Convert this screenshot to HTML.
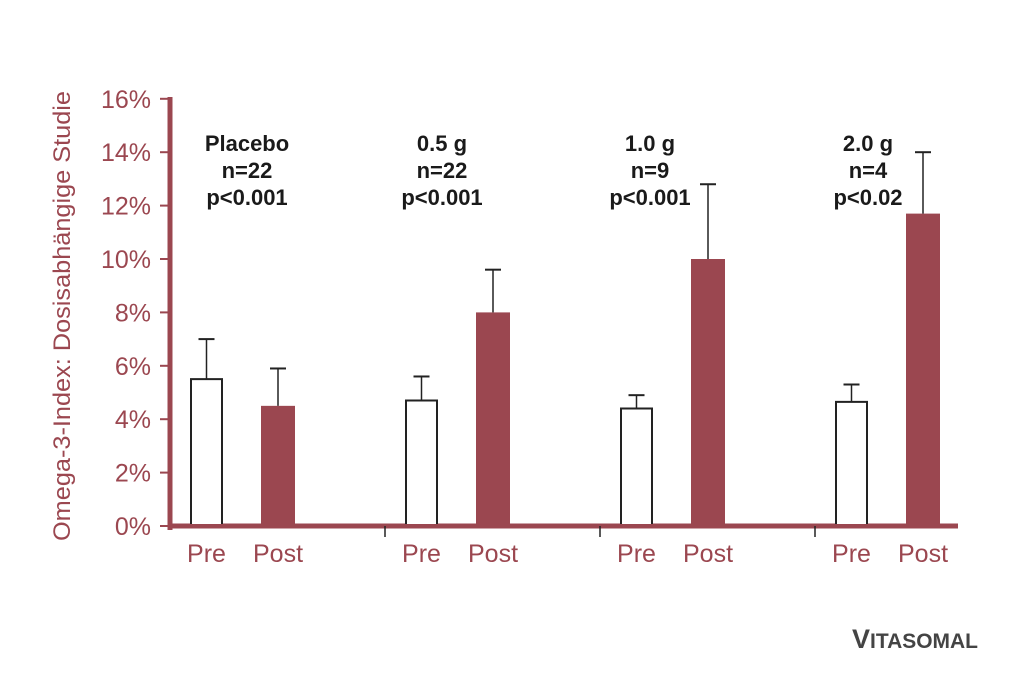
<!DOCTYPE html>
<html><head><meta charset="utf-8"><style>
html,body{margin:0;padding:0;background:#fff;width:1024px;height:689px;overflow:hidden}
svg text{font-family:"Liberation Sans",Arial,sans-serif}
</style></head><body>
<svg id="chart" width="1024" height="689" viewBox="0 0 1024 689">
<g id="axes"></g>
<g id="bars"></g>
<g id="labels"></g>
<text transform="translate(70,316) rotate(-90)" text-anchor="middle" font-size="24" textLength="450" lengthAdjust="spacingAndGlyphs" fill="#9b4750">Omega-3-Index: Dosisabhängige Studie</text>
<text x="852" y="648" font-size="27" font-weight="bold" fill="#444" textLength="126" lengthAdjust="spacingAndGlyphs">V<tspan font-size="21">ITASOMAL</tspan></text>
</svg>
<script>
const groups = ["Placebo","0.5 g","1.0 g","2.0 g"];
const nLabels = ["n=22","n=22","n=9","n=4"];
const pLabels = ["p<0.001","p<0.001","p<0.001","p<0.02"];
const preValues = [5.5,4.7,4.4,4.65];
const preErrTop = [7.0,5.6,4.9,5.3];
const postValues = [4.5,8.0,10.0,11.7];
const postErrTop = [5.9,9.6,12.8,14.0];
const yTicks = [0,2,4,6,8,10,12,14,16];

const NS="http://www.w3.org/2000/svg";
const red="#9b4750";
const y0=526, pxPer=26.7;
function yScale(v){return y0-v*pxPer;}
function groupX(i){return 170+i*215;}
function mk(tag,attrs,parent,txt){const e=document.createElementNS(NS,tag);for(const k in attrs)e.setAttribute(k,attrs[k]);if(txt!==undefined)e.textContent=txt;parent.appendChild(e);return e;}
const axes=document.getElementById('axes'),bars=document.getElementById('bars'),labels=document.getElementById('labels');

let yl=mk('line',{x1:170,y1:97,x2:170,y2:530,stroke:red,'stroke-width':5},axes);


let xl=mk('line',{x1:168,y1:y0,x2:958,y2:y0,stroke:red,'stroke-width':5},axes);


yTicks.forEach(t=>{
  const y=yScale(t);
  let tk=mk('line',{x1:160,y1:y,x2:170,y2:y,stroke:red,'stroke-width':2},axes);
  
  
  let tl=mk('text',{x:151,y:y+9,'text-anchor':'end','font-size':25,fill:red},axes,t+'%');
  
  
});
[1,2,3].forEach(i=>{
  let s=mk('line',{x1:groupX(i),y1:y0,x2:groupX(i),y2:y0+11,stroke:'#222','stroke-width':1.5},axes);
  
  
});

function errBar(cx,top,val){
  let g=mk('g',{},bars);
  
  
  mk('line',{x1:cx,y1:yScale(val),x2:cx,y2:yScale(top),stroke:'#222','stroke-width':1.5},g);
  mk('line',{x1:cx-8,y1:yScale(top),x2:cx+8,y2:yScale(top),stroke:'#222','stroke-width':2},g);
}
groups.forEach((g,i)=>{
  const gx=groupX(i);
  const preL=gx+21, preW=31, postL=gx+91, postW=34;
  let pr=mk('polyline',{points:`${preL},${y0-2} ${preL},${yScale(preValues[i])} ${preL+preW},${yScale(preValues[i])} ${preL+preW},${y0-2}`,fill:'#fff',stroke:'#222','stroke-width':2},bars);
  
  
  errBar(preL+preW/2,preErrTop[i],preValues[i]);
  let po=mk('rect',{x:postL,y:yScale(postValues[i]),width:postW,height:y0-yScale(postValues[i]),fill:red},bars);
  
  
  errBar(postL+postW/2,postErrTop[i],postValues[i]);
  let a=mk('text',{x:preL+preW/2,y:562,'text-anchor':'middle','font-size':25,fill:red},labels,'Pre');
  
  
  let b=mk('text',{x:postL+postW/2,y:562,'text-anchor':'middle','font-size':25,fill:red},labels,'Post');
  
  
  const cx=[247,442,650,868][i];
  [g,nLabels[i],pLabels[i]].forEach((t,k)=>{
    let tt=mk('text',{x:cx,y:151+k*27,'text-anchor':'middle','font-size':22,'font-weight':'bold',fill:'#1a1a1a'},labels,t);
    
    
  });
});
</script>
</body></html>
